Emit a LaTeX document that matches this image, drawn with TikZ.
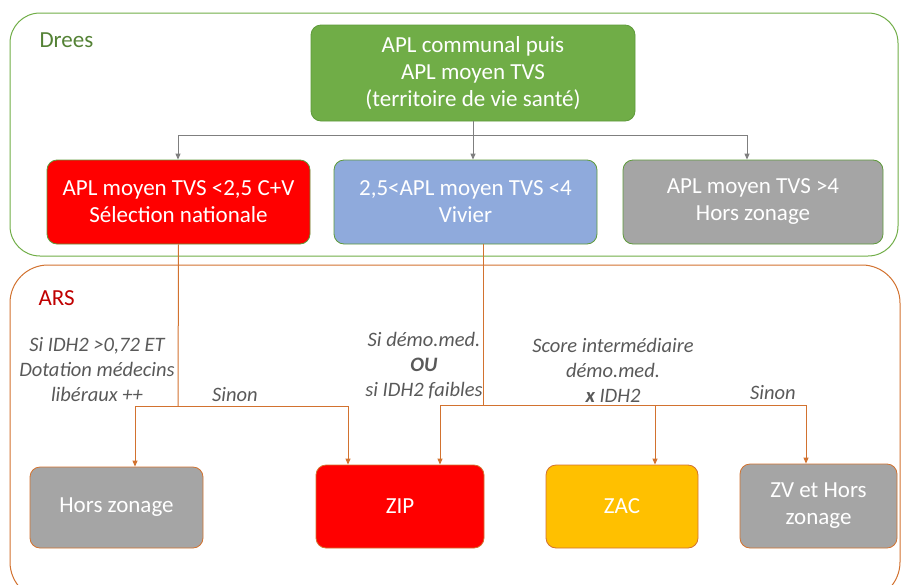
\documentclass[tikz,border=0pt]{standalone}
\usepackage{fontspec}
\setmainfont{Carlito}
\usetikzlibrary{arrows.meta}
\definecolor{dgreen}{HTML}{70AD47}
\definecolor{dgreenb}{HTML}{5E9A3A}
\definecolor{dlabel}{HTML}{548235}
\definecolor{ared}{HTML}{C00000}
\definecolor{orng}{HTML}{D2722F}
\definecolor{bred}{HTML}{FF0000}
\definecolor{bblue}{HTML}{8FAADC}
\definecolor{bgrey}{HTML}{A5A5A5}
\definecolor{bgold}{HTML}{FFC000}
\definecolor{lgrey}{HTML}{595959}
\definecolor{agrey}{HTML}{7F7F7F}
\begin{document}
\begin{tikzpicture}[x=1pt,y=-1pt,
  container/.style={draw, line width=1pt, inner sep=0pt},
  box/.style={draw, line width=0.8pt, rounded corners=10pt, text=white, align=center,
    inner sep=0pt, font=\fontsize{23}{27}\selectfont},
  dbox/.style={box, draw=dgreenb},
  abox/.style={box, draw=orng},
  lab/.style={text=lgrey, align=center, font=\fontsize{20.5}{25}\selectfont\itshape},
  garrow/.style={draw=agrey, line width=1pt, -{Triangle[length=6pt,width=5pt]}},
  gline/.style={draw=agrey, line width=1pt},
  oarrow/.style={draw=orng, line width=1pt, -{Triangle[length=6pt,width=5pt]}},
  oline/.style={draw=orng, line width=1pt}]
\useasboundingbox (0,0) rectangle (902,584);
\clip (0,0) rectangle (902,584);
% containers
\node[container, draw=dgreen, rounded corners=30pt, minimum width=888pt, minimum height=243pt] (drees) at (454,134.5) {};
\node[container, draw=orng, rounded corners=38pt, minimum width=890pt, minimum height=335pt] (ars) at (455,432.5) {};
\node[text=dlabel, anchor=west, font=\fontsize{23}{27}\selectfont] (dreeslab) at (36,40) {Drees};
\node[text=ared, anchor=west, font=\fontsize{23}{27}\selectfont] (arslab) at (35,298) {ARS};
% Drees boxes
\node[dbox, fill=dgreen, minimum width=324pt, minimum height=96pt] (top) at (473,73)
  {APL communal puis\\APL moyen TVS\\(territoire de vie santé)};
\node[dbox, fill=bred, minimum width=263pt, minimum height=84pt] (red) at (178.5,202)
  {APL moyen TVS <2,5 C+V\\Sélection nationale};
\node[dbox, fill=bblue, minimum width=263pt, minimum height=84pt] (blue) at (465.5,202)
  {2,5<APL moyen TVS <4\\Vivier};
\node[dbox, fill=bgrey, minimum width=260pt, minimum height=84pt] (grey) at (753,202)
  {APL moyen TVS >4\\Hors zonage};
% ARS boxes
\node[abox, fill=bgrey, minimum width=173pt, minimum height=81pt] (hors) at (116.5,507.5) {Hors zonage};
\node[abox, fill=bred, minimum width=168pt, minimum height=83pt] (zip) at (400,506.5) {ZIP};
\node[abox, fill=bgold, minimum width=152pt, minimum height=83pt] (zac) at (622,506.5) {ZAC};
\node[abox, fill=bgrey, minimum width=157pt, minimum height=84pt] (zv) at (818.5,506) {ZV et Hors\\zonage};
% grey connectors
\coordinate (g0) at (473,135);
\coordinate (gl) at (178,135);
\coordinate (gr) at (747,135);
\draw[gline] (top.south) -- (g0);
\draw[gline] (gl) -- (gr);
\draw[garrow] (gl) -- (gl |- red.north);
\draw[garrow] (g0) -- (g0 |- blue.north);
\draw[garrow] (gr) -- (gr |- grey.north);
% orange connectors from red
\coordinate (r0) at (178,406);
\coordinate (hl) at (135,406);
\coordinate (hr) at (348,406);
\draw[oline] (red.south) -- (r0);
\draw[oline] (hl) -- (hr);
\draw[oarrow] (hl) -- (hl |- hors.north);
\draw[oarrow] (hr) -- (hr |- zip.north);
% orange connectors from blue
\coordinate (b0) at (483,405);
\coordinate (bl) at (440,405);
\coordinate (bm) at (655,405);
\coordinate (br) at (806,405);
\draw[oline] (blue.south -| b0) -- (b0);
\draw[oline] (bl) -- (br);
\draw[oarrow] (bl) -- (bl |- zip.north);
\draw[oarrow] (bm) -- (bm |- zac.north);
\draw[oarrow] (br) -- (br |- zv.north);
% labels
\node[lab] (l1) at (97,370) {Si IDH2 >0,72 ET\\Dotation médecins\\libéraux ++};
\node[lab] (l2) at (235,395) {Sinon};
\node[lab] (l3) at (424,366) {Si démo.med.\\\textbf{OU}\\si IDH2 faibles};
\node[lab] (l4) at (613,370) {Score intermédiaire\\démo.med.\\\textbf{x} IDH2};
\node[lab] (l5) at (773,393) {Sinon};
\end{tikzpicture}
\end{document}
